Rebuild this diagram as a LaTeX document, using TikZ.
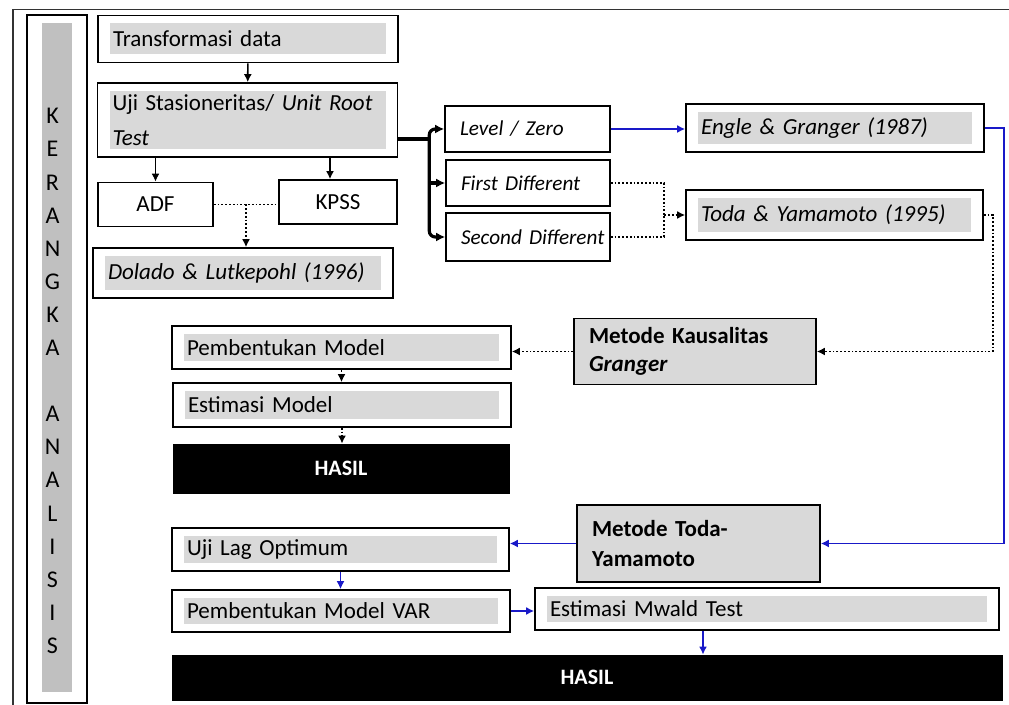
\documentclass[tikz,border=0pt]{standalone}
\usepackage{fontspec}
\usetikzlibrary{arrows.meta}
\setmainfont{Carlito}
\definecolor{band}{RGB}{217,217,217}
\definecolor{bar}{RGB}{192,192,192}
\definecolor{vline}{RGB}{25,25,200}

\begin{document}
\begin{tikzpicture}[x=0.5pt,y=-0.5pt,font=\fontsize{11.5}{14}\selectfont,
        wd/.style={minimum width=#1,text width=#1-15pt}]
        \tikzstyle{box}=[draw,line width=0.8pt,fill=white,align=left,inner xsep=7.5pt,inner ysep=2pt]
        \tikzstyle{gband}=[path picture={\fill[band] ([shift={(6pt,4pt)}]path picture bounding box.south west) rectangle ([shift={(-6pt,-4pt)}]path picture bounding box.north east);}]
        \tikzstyle{small}=[font=\fontsize{10.6}{13}\selectfont\itshape]
        \tikzstyle{hasil}=[draw,fill=black,text=white,font=\fontsize{11}{13}\bfseries,inner sep=0pt]
        \tikzstyle{arr}=[line width=0.8pt,-{Latex[length=4pt,width=4pt]}]
        \tikzstyle{barr}=[line width=0.9pt,draw=vline,-{Latex[length=4pt,width=4pt]}]
        \tikzstyle{dots}=[line width=0.9pt,densely dotted]
        \tikzstyle{dotarr}=[dots,-{Latex[length=4pt,width=4pt]}]
        \tikzstyle{trunk}=[line width=1.6pt]
        \tikzstyle{trunkarr}=[trunk,-{Latex[length=4.5pt,width=4.5pt]}]
        \useasboundingbox (0,0) rectangle (1009,705);
        % frame and side label
        \draw[line width=0.7pt,black!80] (1009,9.5) -- (13,9.5) -- (13,705);
        \node[draw,line width=0.8pt,minimum width=30pt,minimum height=344pt,inner sep=0pt] (side) at (57,359) {};
        \node[fill=bar,minimum width=15pt,minimum height=334.5pt,inner sep=0pt] (bar) at (57,357.5) {};
        \node[align=center,font=\fontsize{12}{16.55}\selectfont] (word) at (52.5,381) {K\\E\\R\\A\\N\\G\\K\\A\\[16.55pt]A\\N\\A\\L\\I\\S\\I\\S};
        % unit root part
        \node[box,gband,wd=150pt,minimum height=23.5pt] (trans) at (248,39) {Transformasi data};
        \node[box,gband,wd=150pt,minimum height=37pt] (uji) at (247.5,120) {Uji Stasioneritas/ \textit{Unit Root}\\[3.5pt]\textit{Test}};
        \node[box,align=center,minimum width=57.5pt,minimum height=22pt] (adf) at (155.5,204.5) {ADF};
        \node[box,align=center,minimum width=59pt,minimum height=22pt] (kpss) at (338,202) {KPSS};
        \node[box,gband,wd=150pt,minimum height=25pt] (dolado) at (243,273) {\textit{Dolado \& Lutkepohl (1996)}};
        \node[box,small,wd=82.5pt,minimum height=23pt] (level) at (527.5,129) {Level / Zero};
        \node[box,small,wd=82pt,minimum height=23pt] (first) at (528,183) {\mbox{First Different}};
        \node[box,small,wd=82pt,minimum height=24pt] (second) at (528,237) {\mbox{Second Different}};
        \node[box,gband,wd=149pt,minimum height=24pt] (engle) at (835,128) {\textit{Engle \& Granger (1987)}};
        \node[box,gband,wd=148.5pt,minimum height=25pt] (toda) at (834.5,215) {\textit{Toda \& Yamamoto (1995)}};
        % granger part
        \node[box,fill=band,wd=121pt,minimum height=33pt] (kaus) at (695,351.5) {\textbf{Metode Kausalitas}\\\textbf{\textit{Granger}}};
        \node[box,gband,wd=169.5pt,minimum height=21.5pt] (pemb) at (341.5,347.5) {Pembentukan Model};
        \node[box,gband,wd=169pt,minimum height=22pt] (estim) at (342,405) {Estimasi Model};
        \node[hasil,minimum width=168pt,minimum height=24.5pt] (hasil1) at (341,468.5) {HASIL};
        % toda-yamamoto part
        \node[box,fill=band,wd=121.5pt,minimum height=38.5pt] (tymet) at (698.5,543.5) {\textbf{Metode Toda-}\\[1pt]\textbf{Yamamoto}\\[3pt]};
        \node[box,gband,wd=168.5pt,minimum height=21.5pt] (lag) at (340.5,549.5) {Uji Lag Optimum};
        \node[box,gband,wd=169pt,minimum height=21pt] (var) at (341,611) {Pembentukan Model VAR};
        \node[box,gband,wd=232pt,minimum height=21pt] (wald) at (767,609) {Estimasi Mwald Test};
        \node[hasil,minimum width=415pt,minimum height=22.5pt] (hasil2) at (587,677.5) {HASIL};
        % connectors
        \draw[arr] (trans) -- (uji);
        \draw[arr] (adf.north |- uji.south) -- (adf.north);
        \draw[arr] ([xshift=-4pt]kpss.north |- uji.south) -- ([xshift=-4pt]kpss.north);
        \draw[dots] (adf.east) -- coordinate (adfk) (adf.east -| kpss.west);
        \draw[dotarr] (adfk) -- (adfk |- dolado.north);
        \draw[trunk] ([yshift=-9.5pt]uji.east) -- ++(15.5pt,0) coordinate (fork);
        \draw[trunkarr,rounded corners=3pt] (fork) |- (level.west);
        \draw[trunkarr] (fork) -- (fork |- first.west) -- (first.west);
        \draw[trunkarr,rounded corners=3pt] (fork) |- (second.west);
        \draw[barr] (level.east) -- (level.east -| engle.west);
        \coordinate (tjoin) at ([xshift=-10.5pt]toda.west);
        \draw[dots] (first.east) -| (tjoin);
        \draw[dots] (second.east) -| (tjoin);
        \draw[dotarr] (tjoin) -- (toda.west);
        \draw[dotarr] (toda.east) -- ++(4.5pt,0) |- (kaus.east);
        \draw[barr] (engle.east) -- ++(9.5pt,0) |- (tymet.east);
        \draw[dotarr] (kaus.west) -- (kaus.west -| pemb.east);
        \draw[dotarr] (pemb.south) -- (pemb.south |- estim.north);
        \draw[dotarr] (estim.south) -- (estim.south |- hasil1.north);
        \draw[barr] (tymet.west) -- (tymet.west -| lag.east);
        \draw[barr] (lag.south) -- (lag.south |- var.north);
        \draw[barr] (var.east) -- (var.east -| wald.west);
        \draw[barr] ([xshift=-32pt]wald.south) -- ([xshift=-32pt]wald.south |- hasil2.north);
    \end{tikzpicture}
\end{document}
